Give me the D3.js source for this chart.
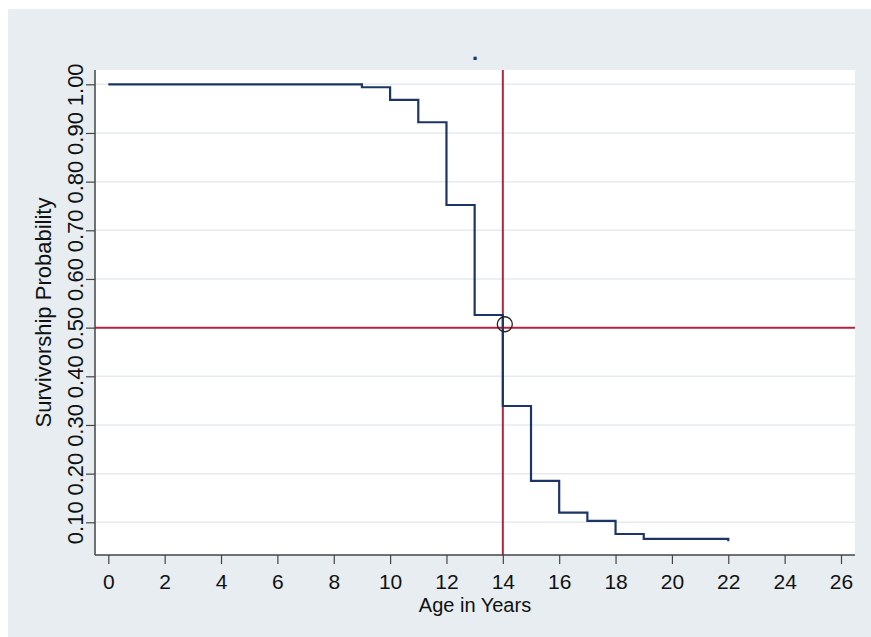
<!DOCTYPE html>
<html>
<head>
<meta charset="utf-8">
<script src="https://cdn.jsdelivr.net/npm/d3@7"></script>
<style>
  body { margin: 0; background: #fff; }
  svg { display: block; font-family: "Liberation Sans", Arial, sans-serif; }
</style>
</head>
<body>
<div id="chart"></div>
<script>
// survivorship data (age in years, probability)
var ages = [0, 9, 10, 11, 12, 13, 14, 15, 16, 17, 18, 19, 22];
var survival = [1.000, 0.994, 0.968, 0.922, 0.752, 0.526, 0.339, 0.185, 0.120, 0.103, 0.076, 0.066, 0.061];

var xTicks = [0, 2, 4, 6, 8, 10, 12, 14, 16, 18, 20, 22, 24, 26];
var yTicks = [0.1, 0.2, 0.3, 0.4, 0.5, 0.6, 0.7, 0.8, 0.9, 1.0];

var medianAge = [14];
var halfLine = [0.5];
var medianMark = [[14.07, 0.507]];

var title = ".";
var xTitle = "Age in Years";
var yTitle = "Survivorship Probability";

var width = 871, height = 637;
var plotL = 95, plotR = 855, plotT = 70, plotB = 555;

var navy = "#1c3566", red = "#b3243e", bg = "#e7edf0";

var svg = d3.select("#chart").append("svg")
    .attr("width", width)
    .attr("height", height);

// outer background and plot region
svg.append("rect").attr("x", 8).attr("y", 9).attr("width", width - 8).attr("height", height - 9).attr("fill", bg);
svg.append("rect").attr("x", plotL).attr("y", plotT).attr("width", plotR - plotL).attr("height", plotB - plotT).attr("fill", "#fff");

var x = d3.scaleLinear().domain([-0.472, 26.497]).range([plotL, plotR]);
var y = d3.scaleLinear().domain([0.0328, 1.0294]).range([plotB, plotT]);

// gridlines
svg.append("g").selectAll("line")
    .data(yTicks)
    .enter().append("line")
    .attr("x1", plotL).attr("x2", plotR)
    .attr("y1", function(d) { return y(d); })
    .attr("y2", function(d) { return y(d); })
    .attr("stroke", "#e5ebee")
    .attr("stroke-width", 1.5);

// reference lines
svg.append("g").selectAll("line")
    .data(halfLine)
    .enter().append("line")
    .attr("x1", plotL).attr("x2", plotR)
    .attr("y1", function(d) { return y(d); })
    .attr("y2", function(d) { return y(d); })
    .attr("stroke", red).attr("stroke-width", 2);

svg.append("g").selectAll("line")
    .data(medianAge)
    .enter().append("line")
    .attr("x1", function(d) { return x(d); })
    .attr("x2", function(d) { return x(d); })
    .attr("y1", plotT).attr("y2", plotB)
    .attr("stroke", red).attr("stroke-width", 2);

// step curve
var points = ages.map(function(a, i) { return [a, survival[i]]; });
var line = d3.line()
    .x(function(d) { return x(d[0]); })
    .y(function(d) { return y(d[1]); })
    .curve(d3.curveStepAfter);

svg.append("path")
    .datum(points)
    .attr("d", line)
    .attr("fill", "none")
    .attr("stroke", navy)
    .attr("stroke-width", 2.2);

svg.append("g").selectAll("circle")
    .data(medianMark)
    .enter().append("circle")
    .attr("cx", function(d) { return x(d[0]); })
    .attr("cy", function(d) { return y(d[1]); })
    .attr("r", 7.5)
    .attr("fill", "none")
    .attr("stroke", "#222")
    .attr("stroke-width", 1.3);

// axes
var xAxis = svg.append("g")
    .attr("transform", "translate(0," + plotB + ")")
    .call(d3.axisBottom(x).tickValues(xTicks).tickSize(9).tickPadding(10).tickSizeOuter(0));

var yAxis = svg.append("g")
    .attr("transform", "translate(" + plotL + ",0)")
    .call(d3.axisLeft(y).tickValues(yTicks).tickFormat(d3.format(".2f")).tickSize(9).tickSizeOuter(0));

[xAxis, yAxis].forEach(function(ax) {
  ax.select(".domain").attr("stroke", "#444").attr("stroke-width", 1.5);
  ax.selectAll(".tick line").attr("stroke", "#444").attr("stroke-width", 1.2);
  ax.selectAll(".tick text").attr("fill", "#111");
});
xAxis.selectAll(".tick text").style("font-size", "21px");
yAxis.selectAll(".tick text").style("font-size", "22px");
// extend domain lines across the whole plot region
xAxis.select(".domain").attr("d", "M" + plotL + ",0H" + plotR);
yAxis.select(".domain").attr("d", "M0," + plotT + "V" + plotB);

yAxis.selectAll(".tick text")
    .attr("transform", "rotate(-90)")
    .attr("x", 0)
    .attr("y", -12)
    .attr("dy", 0)
    .attr("text-anchor", "middle");

// titles
svg.append("text")
    .attr("x", (plotL + plotR) / 2).attr("y", 60)
    .attr("text-anchor", "middle")
    .attr("fill", navy)
    .style("font-size", "22px")
    .style("font-weight", "bold")
    .text(title);

svg.append("text")
    .attr("x", (plotL + plotR) / 2).attr("y", 612)
    .attr("text-anchor", "middle")
    .attr("fill", "#111")
    .style("font-size", "20px")
    .text(xTitle);

svg.append("text")
    .attr("transform", "translate(51," + (plotT + plotB) / 2 + ") rotate(-90)")
    .attr("text-anchor", "middle")
    .attr("fill", "#111")
    .style("font-size", "22px")
    .text(yTitle);
</script>
</body>
</html>
